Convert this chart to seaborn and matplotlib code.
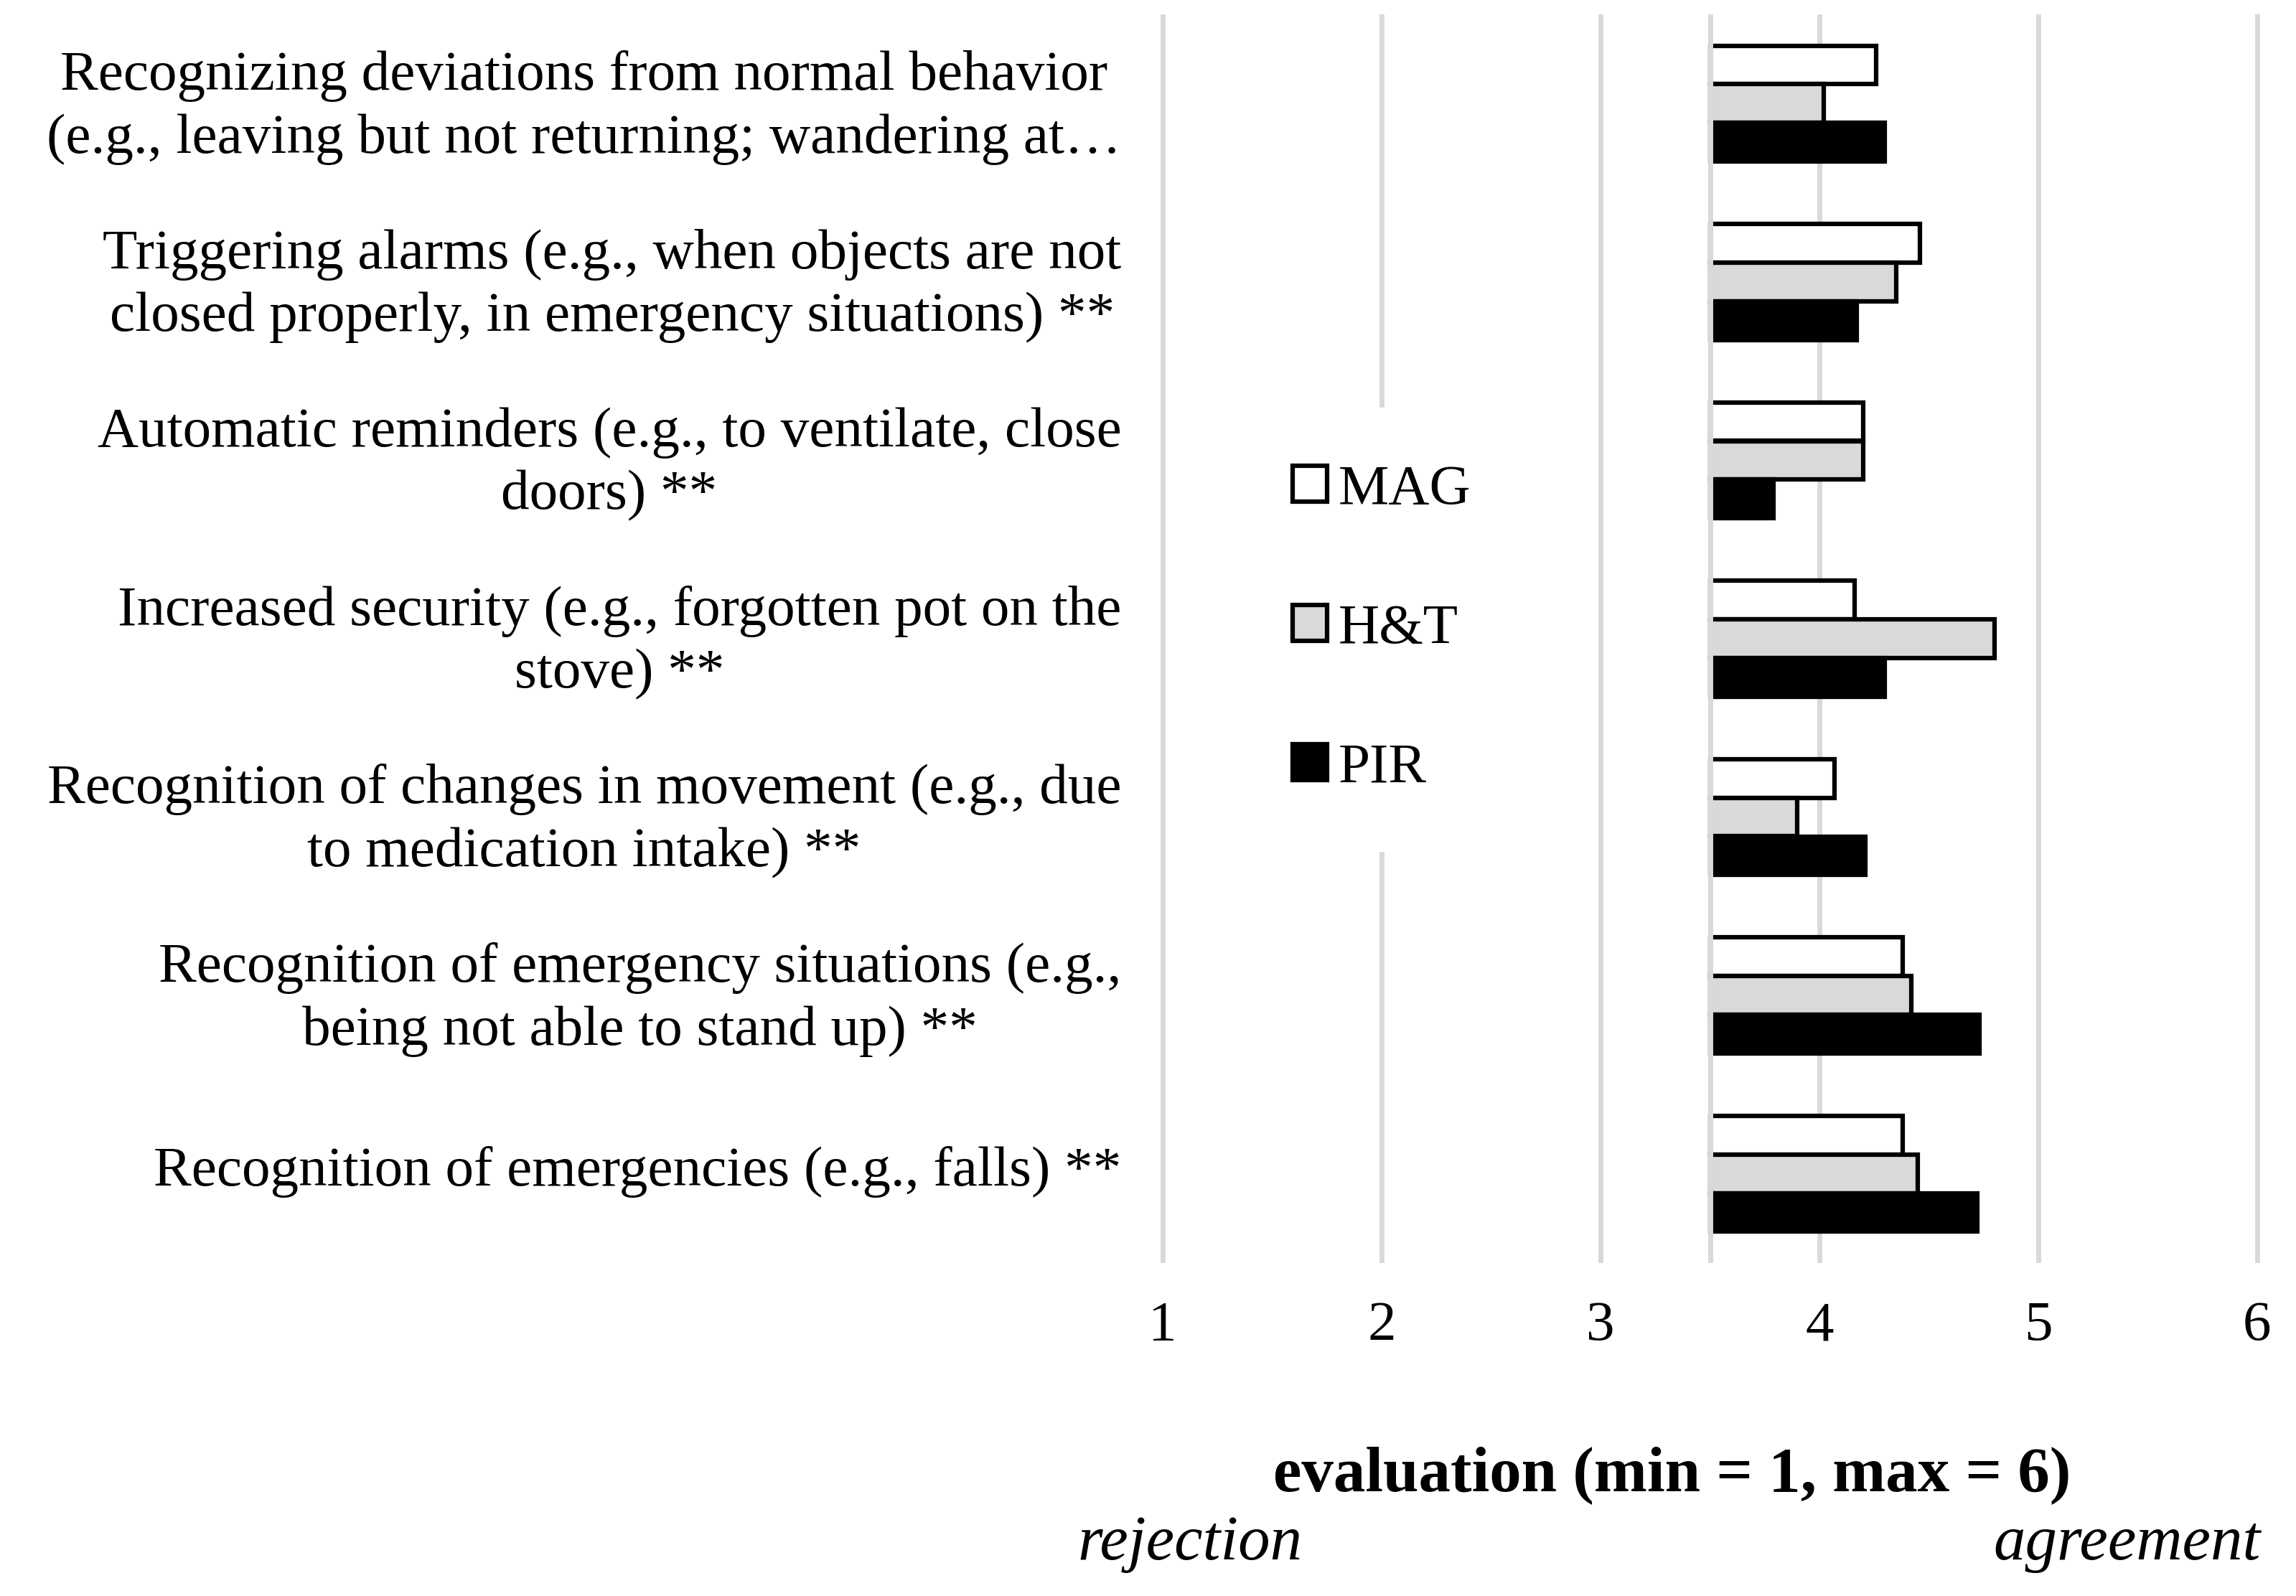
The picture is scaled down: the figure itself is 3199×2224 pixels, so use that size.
import matplotlib
matplotlib.use("Agg")
import matplotlib.pyplot as plt
import matplotlib.transforms as mtransforms
import seaborn as sns
import pandas as pd
import numpy as np
from matplotlib.ticker import FixedLocator, FuncFormatter

# ---------------- data ----------------
categories = [
    "Recognizing deviations from normal behavior\n(e.g., leaving but not returning; wandering at\u2026",
    "Triggering alarms (e.g., when objects are not\nclosed properly, in emergency situations) **",
    "Automatic reminders (e.g., to ventilate, close\ndoors) **",
    "Increased security (e.g., forgotten pot on the\nstove) **",
    "Recognition of changes in movement (e.g., due\nto medication intake) **",
    "Recognition of emergency situations (e.g.,\nbeing not able to stand up) **",
    "Recognition of emergencies (e.g., falls) **",
]
groups = ["MAG", "H&T", "PIR"]
mag_values = [4.26, 4.46, 4.20, 4.16, 4.07, 4.38, 4.38]
ht_values = [4.02, 4.35, 4.20, 4.80, 3.90, 4.42, 4.45]
pir_values = [4.30, 4.17, 3.79, 4.30, 4.21, 4.73, 4.72]
tick_values = [1, 2, 3, 4, 5, 6]
axis_cross = 3.5  # bars start where the vertical axis crosses

colors = {"MAG": "#ffffff", "H&T": "#d9d9d9", "PIR": "#000000"}

rows = []
for g, vals in zip(groups, [mag_values, ht_values, pir_values]):
    for c, v in zip(categories, vals):
        rows.append({"category": c, "group": g, "value": v})
df = pd.DataFrame(rows)
df["offset"] = df["value"] - axis_cross

# ---------------- figure ----------------
sns.set_theme(style="white")
plt.rcParams["font.family"] = ["Liberation Serif", "DejaVu Serif"]
plt.rcParams["text.color"] = "black"
plt.rcParams["xtick.color"] = "black"
plt.rcParams["ytick.color"] = "black"
FS = 57
FS2 = 64

W, H = 3199, 2224
fig = plt.figure(figsize=(W / 100, H / 100), dpi=100)
ax_left, ax_right = 1611, 3154
ax_top, ax_bottom = 20, 1760
ax = fig.add_axes([ax_left / W, 1 - ax_bottom / H, (ax_right - ax_left) / W, (ax_bottom - ax_top) / H])

sns.barplot(
    data=df, x="offset", y="category", hue="group", order=categories,
    hue_order=groups, palette=colors, orient="h", width=0.65, gap=0,
    edgecolor="black", linewidth=4.5, ax=ax, saturation=1,
)

pad = 0.03
ax.set_xlim(tick_values[0] - axis_cross - pad, tick_values[-1] - axis_cross + pad)
ax.set_ylim(len(categories) - 0.5, -0.5)
ax.xaxis.set_major_locator(FixedLocator([t - axis_cross for t in tick_values]))
ax.xaxis.set_major_formatter(FuncFormatter(lambda x, p: f"{x + axis_cross:.0f}"))
ax.set_axisbelow(True)
ax.grid(axis="x", color="#d9d9d9", linewidth=5)
ax.grid(axis="y", visible=False)
ax.axvline(0, color="#d9d9d9", linewidth=5, zorder=5)
for s in ax.spines.values():
    s.set_visible(False)
ax.tick_params(axis="x", length=0, pad=38, labelsize=FS, labelcolor="black")
ax.tick_params(axis="y", length=0, pad=35, labelsize=FS, labelcolor="black")
shift = mtransforms.ScaledTranslation(0, 11 / 100, fig.dpi_scale_trans)
for lab in ax.get_yticklabels():
    lab.set_multialignment("center")
    lab.set_linespacing(1.3)
    lab.set_transform(lab.get_transform() + shift)
ax.set_xlabel("")
ax.set_ylabel("")

sns.move_legend(
    ax, loc="center", bbox_to_anchor=(1925 / W, 1 - 877 / H),
    bbox_transform=fig.transFigure, title=None, frameon=True,
    fontsize=FS, handlelength=0.6, handleheight=0.6, handletextpad=0.2,
    labelspacing=1.55, borderpad=1.0, fancybox=False,
)
leg = ax.get_legend()
leg.get_frame().set_facecolor("white")
leg.get_frame().set_edgecolor("white")
leg.get_frame().set_alpha(1)
leg.set_zorder(10)
for h in leg.legend_handles:
    h.set_edgecolor("black")
    h.set_linewidth(4.5)
for t in leg.get_texts():
    t.set_color("black")

fig.text(2330 / W, 1 - 2056 / H, "evaluation (min = 1, max = 6)", ha="center", va="center",
         fontsize=FS2, fontweight="bold", color="black")
fig.text(1658 / W, 1 - 2152 / H, "rejection", ha="center", va="center", fontsize=FS2,
         style="italic", color="black")
fig.text(3150 / W, 1 - 2152 / H, "agreement", ha="right", va="center", fontsize=FS2,
         style="italic", color="black")

fig.savefig("out.png", dpi=100, facecolor="white")
